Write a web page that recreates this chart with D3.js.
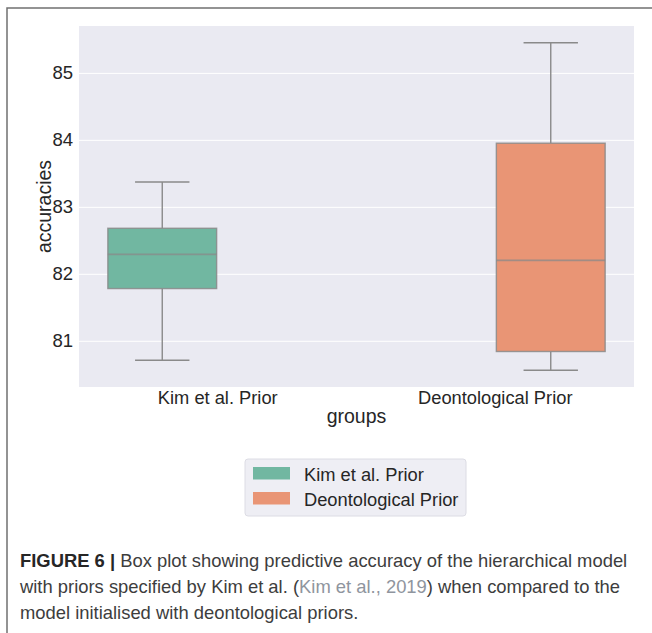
<!DOCTYPE html>
<html>
<head>
<meta charset="utf-8">
<script src="https://cdn.jsdelivr.net/npm/d3@7"></script>
<style>
  body { margin: 0; background: #fff; }
  text { font-family: "Liberation Sans", Arial, sans-serif; }
</style>
</head>
<body>
<div id="chart"></div>
<script>
// data
var groups = ["Kim et al. Prior", "Deontological Prior"];
var hues = ["Kim et al. Prior", "Deontological Prior"];
var whiskerLow = [80.71, 80.56];
var q1 = [81.78, 80.84];
var medians = [82.29, 82.20];
var q3 = [82.68, 83.95];
var whiskerHigh = [83.37, 85.45];
var yTicks = [81, 82, 83, 84, 85];
var boxColors = ["#71b7a1", "#e99575"];

var W = 652, H = 633;
var plot = {left: 79, right: 634, top: 26, bottom: 387};

var svg = d3.select("#chart")
  .append("svg")
    .attr("width", W)
    .attr("height", H);

svg.append("rect").attr("width", W).attr("height", H).attr("fill", "#fff");

// figure frame (left and top edges)
svg.append("path")
  .attr("d", "M7," + H + "V8H" + W)
  .attr("fill", "none")
  .attr("stroke", "#707070")
  .attr("stroke-width", 1.5);

// plot background
svg.append("rect")
  .attr("x", plot.left)
  .attr("y", plot.top)
  .attr("width", plot.right - plot.left)
  .attr("height", plot.bottom - plot.top)
  .attr("fill", "#eaeaf2");

// scales
var y = d3.scaleLinear()
  .domain([80.31, 85.70])
  .range([plot.bottom, plot.top]);

var x = d3.scaleBand()
  .domain(groups)
  .range([plot.left, plot.right]);

var hueScale = d3.scaleBand()
  .domain(hues)
  .range([x.bandwidth() * 0.1, x.bandwidth() * 0.9]);

// y axis with grid
var yAxis = svg.append("g")
  .attr("transform", "translate(" + plot.left + ",0)")
  .call(d3.axisLeft(y).tickValues(yTicks).tickFormat(d3.format("d"))
    .tickSize(-(plot.right - plot.left)).tickPadding(6));
yAxis.select(".domain").remove();
yAxis.selectAll("line").attr("stroke", "#fff").attr("stroke-width", 1);
yAxis.selectAll("text")
  .attr("fill", "#262626")
  .style("font-size", "18.5px");

// x axis
var xAxis = svg.append("g")
  .attr("transform", "translate(0," + plot.bottom + ")")
  .call(d3.axisBottom(x).tickSize(0).tickPadding(4));
xAxis.select(".domain").remove();
xAxis.selectAll("text")
  .attr("fill", "#262626")
  .style("font-size", "18.3px");

// boxes
var lineColor = "#8a8a8a";
var boxes = groups.map(function(g, i) {
  return {group: g, hue: hues[i], lo: whiskerLow[i], q1: q1[i], med: medians[i], q3: q3[i], hi: whiskerHigh[i], color: boxColors[i]};
});

var boxW = hueScale.bandwidth() * 0.98;

var bx = svg.selectAll(".box")
  .data(boxes)
  .enter()
  .append("g")
    .attr("class", "box")
    .attr("transform", function(d) {
      return "translate(" + (x(d.group) + hueScale(d.hue) + hueScale.bandwidth() / 2) + ",0)";
    });

// whiskers
bx.append("line")
  .attr("x1", 0).attr("x2", 0)
  .attr("y1", function(d) { return y(d.q3); })
  .attr("y2", function(d) { return y(d.hi); })
  .attr("stroke", lineColor).attr("stroke-width", 1.4);
bx.append("line")
  .attr("x1", 0).attr("x2", 0)
  .attr("y1", function(d) { return y(d.q1); })
  .attr("y2", function(d) { return y(d.lo); })
  .attr("stroke", lineColor).attr("stroke-width", 1.4);
// caps
bx.append("line")
  .attr("x1", -boxW / 4).attr("x2", boxW / 4)
  .attr("y1", function(d) { return y(d.hi); })
  .attr("y2", function(d) { return y(d.hi); })
  .attr("stroke", lineColor).attr("stroke-width", 1.4);
bx.append("line")
  .attr("x1", -boxW / 4).attr("x2", boxW / 4)
  .attr("y1", function(d) { return y(d.lo); })
  .attr("y2", function(d) { return y(d.lo); })
  .attr("stroke", lineColor).attr("stroke-width", 1.4);
// box body
bx.append("rect")
  .attr("x", -boxW / 2)
  .attr("width", boxW)
  .attr("y", function(d) { return y(d.q3); })
  .attr("height", function(d) { return y(d.q1) - y(d.q3); })
  .attr("fill", function(d) { return d.color; })
  .attr("stroke", lineColor)
  .attr("stroke-opacity", 0.85)
  .attr("stroke-width", 1.4);
// median
bx.append("line")
  .attr("x1", -boxW / 2).attr("x2", boxW / 2)
  .attr("y1", function(d) { return y(d.med); })
  .attr("y2", function(d) { return y(d.med); })
  .attr("stroke", lineColor)
  .attr("stroke-opacity", 0.75)
  .attr("stroke-width", 1.6);

// axis titles
svg.append("text")
  .attr("text-anchor", "middle")
  .attr("transform", "translate(51," + ((plot.top + plot.bottom) / 2) + ") rotate(-90)")
  .attr("fill", "#262626")
  .style("font-size", "19.5px")
  .text("accuracies");

svg.append("text")
  .attr("text-anchor", "middle")
  .attr("x", (plot.left + plot.right) / 2)
  .attr("y", 423)
  .attr("fill", "#262626")
  .style("font-size", "19.5px")
  .text("groups");

// legend
var legend = svg.append("g").attr("transform", "translate(245,459)");
legend.append("rect")
  .attr("width", 221).attr("height", 57)
  .attr("rx", 3)
  .attr("fill", "#eeeef4")
  .attr("stroke", "#dcdce4");
var li = legend.selectAll(".item")
  .data(hues)
  .enter()
  .append("g")
    .attr("class", "item")
    .attr("transform", function(d, i) { return "translate(8," + (8 + i * 25) + ")"; });
li.append("rect")
  .attr("width", 37).attr("height", 12.5)
  .attr("fill", function(d, i) { return boxColors[i]; });
li.append("text")
  .attr("x", 51).attr("y", 13.5)
  .attr("fill", "#262626")
  .style("font-size", "18.3px")
  .text(function(d) { return d; });

// caption
var cap = svg.append("text")
  .attr("fill", "#3d3d3d")
  .style("font-size", "18.4px");
var l1 = cap.append("tspan").attr("x", 20).attr("y", 567);
l1.append("tspan").attr("font-weight", "bold").attr("fill", "#262626").text("FIGURE 6 |");
l1.append("tspan").text(" Box plot showing predictive accuracy of the hierarchical model");
var l2 = cap.append("tspan").attr("x", 20).attr("y", 593);
l2.append("tspan").text("with priors specified by Kim et al. (");
l2.append("tspan").attr("fill", "#8f959e").text("Kim et al., 2019");
l2.append("tspan").text(") when compared to the");
cap.append("tspan").attr("x", 20).attr("y", 619).text("model initialised with deontological priors.");
</script>
</body>
</html>
